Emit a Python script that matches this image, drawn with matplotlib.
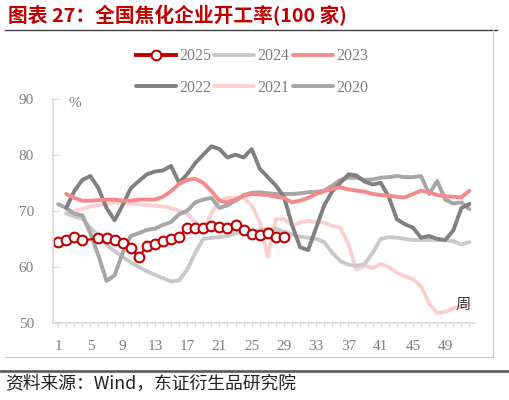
import matplotlib
matplotlib.use("Agg")
import matplotlib.pyplot as plt
import numpy as np
from matplotlib.lines import Line2D

nan = np.nan
weeks = np.arange(1, 53)

y2025 = [64.5, 64.8, 65.3, 64.8, 64.9, 65.1, 65.2, 64.8, 64.2, 63.4,
         61.7, 63.8, 64.0, 64.7, 65.0, 65.3, 67.0, 67.0, 67.0, 67.3,
         67.2, 67.0, 67.4, 66.6, 65.9, 65.7, 66.0, 65.4, 65.4]

y2024 = [nan, 69.5, 69.0, 68.6, 67.0, 65.5, 64.0, 62.8, 61.8, 60.8,
         60.0, 59.2, 58.6, 58.0, 57.4, 57.6, 59.5, 62.5, 65.0, 65.2,
         65.3, 65.5, 66.0, 66.4, 66.4, 66.5, 66.8, 66.8, 66.3, 65.8,
         65.4, 65.2, 65.0, 64.4, 62.5, 61.0, 60.4, 60.2, 60.5, 62.5,
         65.0, 65.3, 65.2, 65.0, 64.8, 64.8, 64.8, 64.8, 64.7, 64.6,
         64.0, 64.4]

y2023 = [nan, 73.0, 72.3, 71.8, 71.8, 71.9, 72.0, 72.0, 71.8, 71.8,
         72.0, 72.0, 72.0, 72.5, 73.5, 74.8, 75.5, 75.7, 75.0, 73.5,
         71.8, 71.5, 72.0, 72.7, 73.0, 72.9, 72.8, 72.5, 72.3, 71.5,
         71.8, 72.3, 73.0, 73.5, 73.9, 74.2, 73.8, 73.6, 73.4, 73.0,
         72.8, 72.7, 72.5, 72.4, 73.0, 73.6, 73.3, 72.8, 72.6, 72.5,
         72.4, 73.6]

y2022 = [nan, 70.5, 73.5, 75.5, 76.2, 74.0, 70.5, 68.3, 71.0, 74.0,
         75.3, 76.5, 77.0, 77.2, 78.0, 75.0, 76.5, 78.5, 80.0, 81.5,
         81.0, 79.5, 80.0, 79.5, 81.0, 77.5, 76.0, 74.5, 72.5, 67.5,
         63.5, 63.0, 67.0, 71.0, 73.5, 75.0, 76.5, 76.3, 75.2, 74.7,
         75.0, 72.5, 68.5, 67.6, 67.0, 65.2, 65.5, 65.0, 64.8, 66.5,
         70.5, 71.2]

y2021 = [nan, 69.8, 70.0, 70.3, 70.8, 71.0, 71.3, 71.5, 71.5, 71.3,
         71.2, 71.0, 70.9, 70.8, 70.5, 70.0, 69.5, 68.0, 66.5, 69.5,
         71.8, 72.3, 72.3, 72.4, 71.0, 68.0, 61.8, 68.5, 68.6, 67.3,
         67.9, 68.2, 68.0, 67.9, 67.3, 67.0, 64.0, 59.5, 60.2, 59.8,
         60.5, 60.0, 59.0, 58.3, 57.8, 56.5, 53.5, 51.8, 52.0, 52.6,
         53.0, 53.4]

y2020 = [71.2, 70.5, 69.5, 69.2, 66.0, 62.0, 57.5, 58.5, 62.5, 65.5,
         66.0, 66.6, 66.8, 67.5, 68.0, 69.4, 70.0, 71.5, 72.0, 72.3,
         70.5, 71.0, 71.8, 72.8, 73.2, 73.3, 73.1, 73.0, 73.0, 73.0,
         73.1, 73.3, 73.4, 73.6, 74.5, 75.5, 75.9, 75.9, 75.5, 75.6,
         75.9, 76.0, 76.2, 76.0, 76.0, 76.2, 73.0, 75.3, 72.0, 71.3,
         71.5, 70.3]

yticks = [50, 60, 70, 80, 90]

serif = "Liberation Serif"
cjk = ["Noto Sans CJK SC", "DejaVu Sans"]
grey_txt = "#7f7f7f"

fig = plt.figure(figsize=(5.1, 4.0), dpi=100)
ax = fig.add_axes([0.1045, 0.1925, 0.827, 0.561])

lw = 2.8
l21, = ax.plot(weeks, y2021, color="#fdd0d0", lw=lw, solid_capstyle="round")
l24, = ax.plot(weeks, y2024, color="#c9c9c9", lw=lw, solid_capstyle="round")
l20, = ax.plot(weeks, y2020, color="#a6a6a6", lw=lw, solid_capstyle="round")
l22, = ax.plot(weeks, y2022, color="#808080", lw=lw, solid_capstyle="round")
l23, = ax.plot(weeks, y2023, color="#f48a8a", lw=lw, solid_capstyle="round")
marks = [i for i in range(len(y2025)) if i != 4]
l25, = ax.plot(weeks[:len(y2025)], y2025, color="#c00000", lw=1.6,
               marker="o", markersize=7, markerfacecolor="white",
               markeredgecolor="#c00000", markeredgewidth=1.5, markevery=marks)

ax.set_xlim(0.4, 52.7)
ax.set_ylim(50, 90)
ax.set_xticks(weeks)
ax.set_xticklabels([str(w) if (w - 1) % 4 == 0 else "" for w in weeks])
ax.set_yticks(yticks)
ax.tick_params(axis="x", direction="out", length=3, color="#d9d9d9",
               labelcolor=grey_txt, labelsize=11, pad=9)
ax.tick_params(axis="y", direction="in", length=4, color="#d9d9d9",
               labelcolor=grey_txt, labelsize=11, pad=14)
for lab in ax.get_xticklabels() + ax.get_yticklabels():
    lab.set_fontfamily(serif)
for s in ["top", "right"]:
    ax.spines[s].set_visible(False)
for s in ["left", "bottom"]:
    ax.spines[s].set_color("#d9d9d9")
    ax.spines[s].set_linewidth(1.2)

ax.text(2.3, 89.2, "%", color=grey_txt, fontsize=11, family=serif, va="center")
ax.text(50.3, 53.3, "周", color="#404040", fontsize=11, family=cjk, va="center")

handles = [
    Line2D([], [], color="#c00000", lw=2.8, marker="o", markersize=7,
           markerfacecolor="white", markeredgewidth=1.5),
    l22, l24, l21, l23, l20,
]
labels = ["2025", "2022", "2024", "2021", "2023", "2020"]
leg = fig.legend(handles, labels, ncol=3, loc="center",
                 bbox_to_anchor=(0.494, 0.82), frameon=False,
                 handlelength=2.5, handletextpad=0.2, columnspacing=0.2,
                 labelspacing=0.95, prop={"family": serif, "size": 11.5})
for t in leg.get_texts():
    t.set_color(grey_txt)

fig.text(0.016, 0.962, "图表 27：全国焦化企业开工率(100 家)", color="#c00000",
         fontsize=14.2, fontweight="bold", family=cjk, va="center")
fig.text(0.01, 0.04, "资料来源：Wind，东证衍生品研究院", color="#222222",
         fontsize=12.8, family=cjk, va="center")

fig.add_artist(Line2D([0.01, 0.975], [0.925, 0.925], color="#404040", lw=1))
fig.add_artist(Line2D([0.967, 0.967], [0.925, 0.108], color="#c8c8c8", lw=0.8))
fig.add_artist(Line2D([0.01, 0.967], [0.108, 0.108], color="#c8c8c8", lw=0.8))
fig.add_artist(Line2D([0.0, 1.0], [0.073, 0.073], color="#606060", lw=2))

fig.savefig("out.png", dpi=100)
